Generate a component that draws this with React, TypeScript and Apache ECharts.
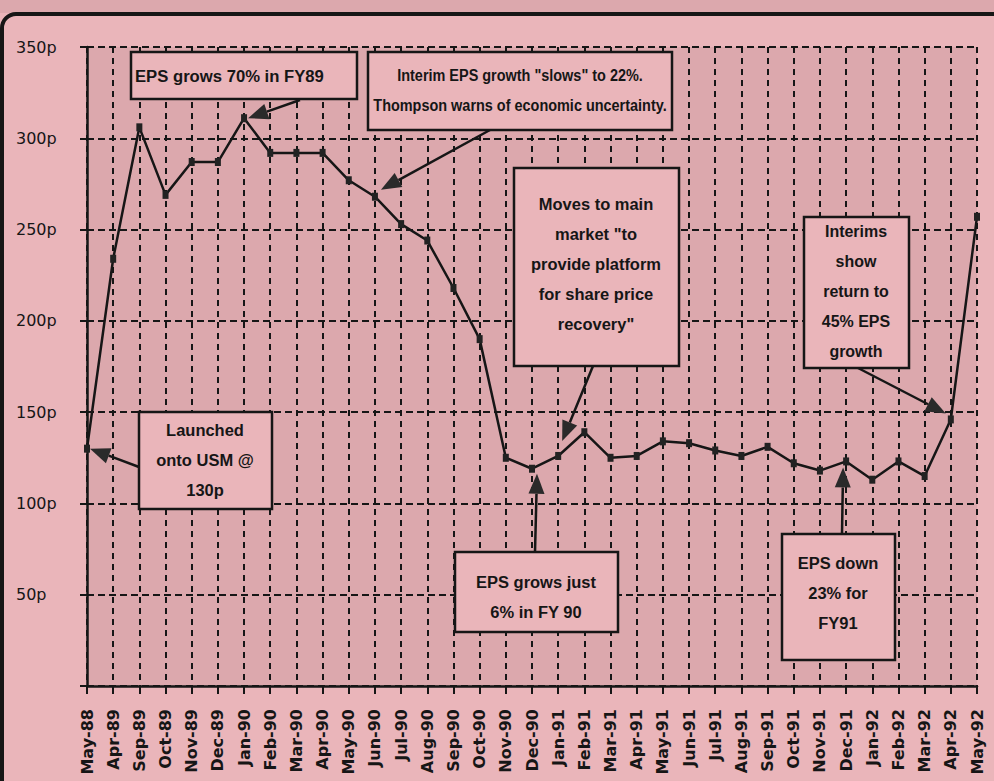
import React, { useEffect, useRef } from "react";
import * as echarts from "echarts";

const months = [
  "May-88", "Apr-89", "Sep-89", "Oct-89", "Nov-89", "Dec-89", "Jan-90",
  "Feb-90", "Mar-90", "Apr-90", "May-90", "Jun-90", "Jul-90", "Aug-90",
  "Sep-90", "Oct-90", "Nov-90", "Dec-90", "Jan-91", "Feb-91", "Mar-91",
  "Apr-91", "May-91", "Jun-91", "Jul-91", "Aug-91", "Sep-91", "Oct-91",
  "Nov-91", "Dec-91", "Jan-92", "Feb-92", "Mar-92", "Apr-92", "May-92",
];

const epsPence = [
  130, 234, 306, 269, 287, 287, 311,
  292, 292, 292, 277, 268, 253, 244,
  218, 190, 125, 119, 126, 139, 125,
  126, 134, 133, 129, 126, 131, 122,
  118, 123, 113, 123, 115, 146, 257,
];

const yMin = 0;
const yMax = 350;
const yStep = 50;

const noteTexts = [
  ["EPS grows 70% in FY89"],
  ["Interim EPS growth \"slows\" to 22%.", "Thompson warns of economic uncertainty."],
  ["Moves to main", "market \"to", "provide platform", "for share price", "recovery\""],
  ["Launched", "onto USM @", "130p"],
  ["EPS grows just", "6% in FY 90"],
  ["EPS down", "23% for", "FY91"],
  ["Interims", "show", "return to", "45% EPS", "growth"],
];
const noteTargets = ["Jan-90", "Jun-90", "Jan-91", "May-88", "Dec-90", "Dec-91", "Apr-92"];

// layout (pixels) for the annotation boxes and arrows
const noteLayout = [
  { box: [131, 52, 226, 47], text: [135, 76], align: "left", sx: 0.98, from: [300, 100], off: [4, 0] },
  { box: [368, 52, 304, 78], text: [520, 90], align: "center", sx: 0.85, from: [490, 130], off: [6, -7] },
  { box: [514, 168, 165, 198], text: [596, 264], align: "center", sx: 0.97, from: [593, 366], off: [4, -15] },
  { box: [139, 412, 133, 97], text: [205, 460], align: "center", sx: 0.97, from: [139, 467], off: [3, 0] },
  { box: [455, 552, 163, 80], text: [536, 597], align: "center", sx: 0.97, from: [535, 552], off: [5, 5] },
  { box: [782, 534, 113, 126], text: [838, 593], align: "center", sx: 0.97, from: [842, 534], off: [-3, 6] },
  { box: [804, 217, 105, 151], text: [856, 291], align: "center", sx: 0.94, from: [858, 368], off: [-5, -6] },
];

const PLAIN = "#eab5ba";
const TEXTURED = "#dca8ad";
const INK = "#161616";

export default function App() {
  const ref = useRef<HTMLDivElement>(null);

  useEffect(() => {
    document.body.style.margin = "0";
    const chart = echarts.init(ref.current!, null, { renderer: "svg" });
    chart.setOption({
      animation: false,
      backgroundColor: PLAIN,
      grid: {
        left: 87,
        right: 17,
        top: 47,
        bottom: 95,
        show: true,
        backgroundColor: TEXTURED,
        borderWidth: 0,
      },
      xAxis: {
        type: "category",
        data: months,
        boundaryGap: false,
        axisLine: { show: true, lineStyle: { color: INK, width: 2.5 } },
        axisTick: { show: true, length: 8, lineStyle: { color: INK, width: 2 } },
        axisLabel: {
          rotate: 90,
          margin: 23,
          color: INK,
          fontFamily: "DejaVu Sans",
          fontWeight: "bold",
          fontSize: 16,
          interval: 0,
        },
        splitLine: {
          show: true,
          lineStyle: { color: INK, width: 2, type: [6, 5] },
        },
      },
      yAxis: {
        type: "value",
        min: yMin,
        max: yMax,
        interval: yStep,
        axisLine: { show: true, lineStyle: { color: INK, width: 2.5 } },
        axisTick: { show: true, length: 7, lineStyle: { color: INK, width: 2 } },
        axisLabel: {
          formatter: (v: number) => (v === 0 ? "" : v + "p"),
          align: "left",
          margin: 71,
          color: INK,
          fontFamily: "DejaVu Sans",
          fontSize: 16,
        },
        splitLine: {
          show: true,
          lineStyle: { color: INK, width: 2, type: [7, 4] },
        },
      },
      series: [
        {
          type: "line",
          data: epsPence,
          symbol: "rect",
          symbolSize: [6, 8],
          itemStyle: { color: "#222" },
          lineStyle: { color: INK, width: 2.5 },
          z: 5,
        },
      ],
    });

    const graphics: any[] = [
      {
        type: "rect",
        silent: true,
        shape: { x: 0, y: 0, width: 994, height: 13 },
        style: { fill: TEXTURED },
      },
      {
        type: "rect",
        silent: true,
        shape: { x: 2, y: 14, width: 1100, height: 900, r: 14 },
        style: { fill: "none", stroke: INK, lineWidth: 4 },
      },
    ];

    noteTexts.forEach((lines, i) => {
      const L = noteLayout[i];
      const idx = months.indexOf(noteTargets[i]);
      const p = chart.convertToPixel({ seriesIndex: 0 }, [idx, epsPence[idx]]) as number[];
      const tip = [p[0] + L.off[0], p[1] + L.off[1]];
      const s = L.from;
      const dx = tip[0] - s[0];
      const dy = tip[1] - s[1];
      const len = Math.sqrt(dx * dx + dy * dy);
      const ux = dx / len;
      const uy = dy / len;
      const headL = 20;
      const headW = 8;
      const bx = tip[0] - ux * headL;
      const by = tip[1] - uy * headL;
      graphics.push({
        type: "line",
        z: 100,
        silent: true,
        shape: { x1: s[0], y1: s[1], x2: bx, y2: by },
        style: { stroke: INK, lineWidth: 2.5 },
      });
      graphics.push({
        type: "polygon",
        z: 100,
        silent: true,
        shape: {
          points: [
            [tip[0], tip[1]],
            [bx - uy * headW, by + ux * headW],
            [bx + uy * headW, by - ux * headW],
          ],
        },
        style: { fill: "#2a2a2a" },
      });
      graphics.push({
        type: "rect",
        z: 100,
        silent: true,
        shape: { x: L.box[0], y: L.box[1], width: L.box[2], height: L.box[3] },
        style: { fill: PLAIN, stroke: INK, lineWidth: 2.5 },
      });
      graphics.push({
        type: "group",
        z: 101,
        silent: true,
        x: L.text[0],
        y: L.text[1],
        scaleX: L.sx,
        children: [
          {
            type: "text",
            z: 101,
            silent: true,
            style: {
              text: lines.join("\n"),
              font: 'bold 17px "Liberation Sans"',
              fill: INK,
              align: L.align,
              verticalAlign: "middle",
              lineHeight: 30,
            },
          },
        ],
      });
    });

    chart.setOption({ graphic: graphics });
    return () => chart.dispose();
  }, []);

  return (
    <div
      ref={ref}
      style={{ position: "absolute", left: 0, top: 0, width: 994, height: 781 }}
    />
  );
}
